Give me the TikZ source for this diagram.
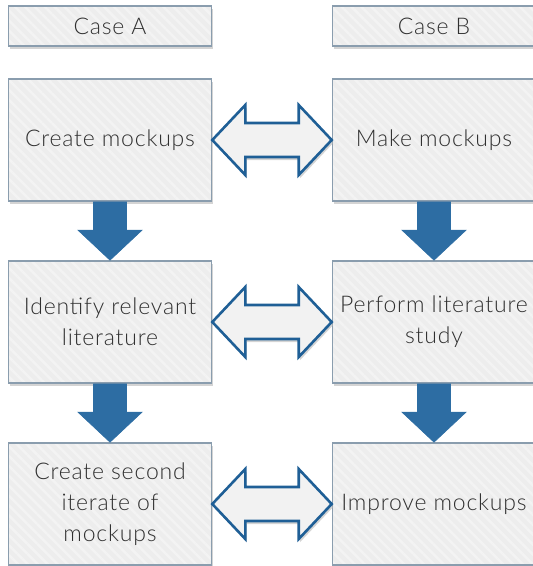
\documentclass[tikz,border=0pt]{standalone}
\usepackage{fontspec}
\setmainfont{Lato Light}[LetterSpace=3.5]
\usetikzlibrary{calc,shadows,patterns.meta}

\definecolor{boxfill}{HTML}{EDEDED}
\definecolor{boxstripe}{HTML}{F3F3F3}
\definecolor{boxline}{HTML}{8A9DAE}
\definecolor{flowblue}{HTML}{2D6DA3}
\definecolor{linkline}{HTML}{1F5F96}
\definecolor{linkfill}{HTML}{F2F2F2}
\definecolor{txt}{HTML}{303030}
\definecolor{shade}{HTML}{B8B8B8}

\tikzset{
  boxbase/.style={draw=boxline, line width=1.6pt, fill=boxfill,
    minimum width=203pt, inner sep=0pt, align=center, text=txt,
    font=\fontsize{23}{31}\selectfont,
    drop shadow={shadow xshift=1.5pt, shadow yshift=-3pt, fill=shade, opacity=0.6},
    path picture={\fill[pattern={Lines[angle=-45,distance=7pt,line width=2.5pt]}, pattern color=boxstripe]
      (path picture bounding box.south west) rectangle (path picture bounding box.north east);}},
  headbox/.style={boxbase, minimum height=40pt},
  stepbox/.style={boxbase, minimum height=122pt},
  flowarrow/.style={fill=flowblue, draw=flowblue, line width=0.6pt, line join=miter},
  linkarrow/.style={fill=linkfill, draw=linkline, line width=2.6pt, line join=miter,
    drop shadow={shadow xshift=1.5pt, shadow yshift=-3pt, fill=shade, opacity=0.6}}
}

\begin{document}
\begin{tikzpicture}[x=1pt,y=-1pt]
\useasboundingbox (0,0) rectangle (533,566);

% column headings
\node[headbox] (caseA) at (110,26) {Case A};
\node[headbox] (caseB) at (434,26) {Case B};

% process steps
\node[stepbox] (a1) at (110,140) {Create mockups};
\node[stepbox] (b1) at (434,140) {Make mockups};
\node[stepbox] (a2) at (110,322) {Identify relevant\\literature};
\node[stepbox] (b2) at (434,322) {Perform literature\\study};
\node[stepbox] (a3) at (110,504) {Create second\\iterate of\\mockups};
\node[stepbox] (b3) at (434,504) {Improve mockups};

% downward block arrows between steps
\foreach \s/\t in {a1/a2,a2/a3,b1/b2,b2/b3}{
  \draw[flowarrow]
    ($(\s.south)+(-16.5,0)$) -- ($(\s.south)+(16.5,0)$)
    -- ($(\t.north)+(16.5,-30)$) -- ($(\t.north)+(32,-30)$)
    -- (\t.north) -- ($(\t.north)+(-32,-30)$)
    -- ($(\t.north)+(-16.5,-30)$) -- cycle;
}

% two-headed block arrows linking the cases
\foreach \s/\t in {a1/b1,a2/b2,a3/b3}{
  \draw[linkarrow]
    (\s.east) -- ($(\s.east)+(33,-35)$) -- ($(\s.east)+(33,-17)$)
    -- ($(\t.west)+(-33,-17)$) -- ($(\t.west)+(-33,-35)$)
    -- (\t.west) -- ($(\t.west)+(-33,35)$) -- ($(\t.west)+(-33,17)$)
    -- ($(\s.east)+(33,17)$) -- ($(\s.east)+(33,35)$) -- cycle;
}
\end{tikzpicture}
\end{document}
